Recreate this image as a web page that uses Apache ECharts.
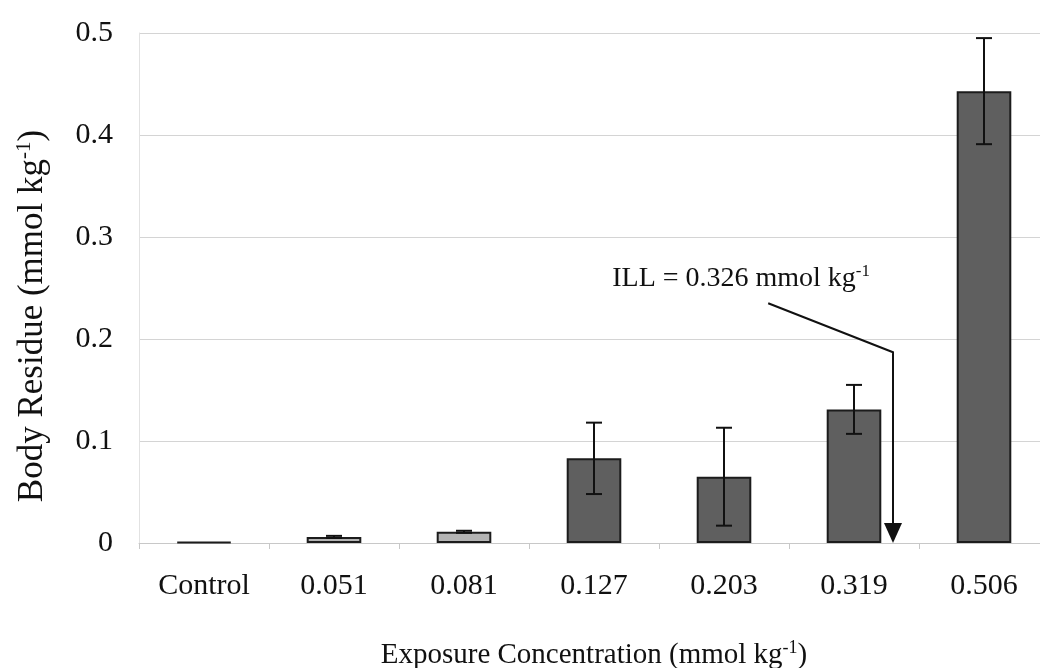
<!DOCTYPE html>
<html>
<head>
<meta charset="utf-8">
<script src="https://cdn.jsdelivr.net/npm/echarts@6/dist/echarts.min.js"></script>
<style>
  html, body { margin: 0; padding: 0; background: #fff; }
  #chart { width: 1040px; height: 668px; }
</style>
</head>
<body>
<div id="chart"></div>
<script>
// Exposure concentrations (mmol kg-1) and measured body residues
const categories = ['Control', '0.051', '0.081', '0.127', '0.203', '0.319', '0.506'];
const residue = [0.001, 0.006, 0.011, 0.083, 0.065, 0.131, 0.443];
const residueErr = [0, 0.001, 0.001, 0.035, 0.048, 0.024, 0.052];
const yTicks = [0, 0.1, 0.2, 0.3, 0.4, 0.5];

// Incipient lethal level annotation
const illLabel = 'ILL = 0.326 mmol kg';
const illArrowPos = 5.3;     // category position of the arrow (between 0.319 and 0.506)
const illBendY = 0.187;
const illStart = [4.34, 0.235];
const illTextAt = [3.14, 0.259];

const serif = '"Liberation Serif", "Times New Roman", serif';
const chart = echarts.init(document.getElementById('chart'), null, { renderer: 'canvas' });

const errData = categories.map((c, i) => [i, residue[i] - residueErr[i], residue[i] + residueErr[i]]);

chart.setOption({
  backgroundColor: '#ffffff',
  animation: false,
  grid: { left: 139, width: 910, top: 33, bottom: 125, containLabel: false, outerBoundsMode: 'none' },
  xAxis: {
    type: 'category',
    data: categories,
    name: '{t|Exposure Concentration (mmol kg}{s|-1}{t|)}',
    nameLocation: 'middle',
    nameGap: 96,
    nameTextStyle: {
      rich: {
        t: { fontFamily: serif, fontSize: 29, color: '#111' },
        s: { fontFamily: serif, fontSize: 18, color: '#111', verticalAlign: 'top', padding: [0, 0, 14, 0] }
      }
    },
    axisLine: { lineStyle: { color: '#c8c8c8', width: 1 } },
    axisTick: { show: true, length: 6, lineStyle: { color: '#c8c8c8' } },
    axisLabel: { fontFamily: serif, fontSize: 30, color: '#111', margin: 28 }
  },
  yAxis: {
    type: 'value',
    min: 0,
    max: 0.5,
    interval: 0.1,
    name: '{t|Body Residue (mmol kg}{s|-1}{t|)}',
    nameLocation: 'middle',
    nameGap: 88,
    nameTextStyle: {
      padding: [0, 56, 0, 0],
      rich: {
        t: { fontFamily: serif, fontSize: 35, color: '#111' },
        s: { fontFamily: serif, fontSize: 21, color: '#111', verticalAlign: 'top', padding: [0, 0, 16, 0] }
      }
    },
    axisLine: { show: true, lineStyle: { color: '#e2e2e2', width: 1 } },
    axisTick: { show: false },
    axisLabel: {
      fontFamily: serif, fontSize: 30, color: '#111', margin: 26,
      formatter: v => yTicks.includes(Math.round(v * 10) / 10) ? String(Math.round(v * 10) / 10) : ''
    },
    splitLine: { show: true, lineStyle: { color: '#d4d4d4', width: 1 } }
  },
  series: [
    {
      type: 'bar',
      data: residue,
      barWidth: '42%',
      itemStyle: {
        color: p => (p.dataIndex === 1 || p.dataIndex === 2) ? '#b4b4b4' : '#5f5f5f',
        borderColor: '#1c1c1c',
        borderWidth: 2
      },
      z: 2
    },
    {
      type: 'custom',
      data: errData,
      z: 5,
      renderItem: (params, api) => {
        const x = api.value(0);
        const lo = api.coord([x, api.value(1)]);
        const hi = api.coord([x, api.value(2)]);
        const cap = 8;
        const st = { stroke: '#111', lineWidth: 2 };
        if (Math.abs(hi[1] - lo[1]) < 1) return null;
        return {
          type: 'group',
          children: [
            { type: 'line', shape: { x1: lo[0], y1: lo[1], x2: hi[0], y2: hi[1] }, style: st },
            { type: 'line', shape: { x1: lo[0] - cap, y1: lo[1], x2: lo[0] + cap, y2: lo[1] }, style: st },
            { type: 'line', shape: { x1: hi[0] - cap, y1: hi[1], x2: hi[0] + cap, y2: hi[1] }, style: st }
          ]
        };
      }
    }
  ]
});

// Place the ILL annotation in data space
function px(pos, y) {
  const i = Math.floor(pos);
  const f = pos - i;
  const a = chart.convertToPixel({ xAxisIndex: 0, yAxisIndex: 0 }, [i, y]);
  const b = chart.convertToPixel({ xAxisIndex: 0, yAxisIndex: 0 }, [i + 1, y]);
  return [a[0] + f * (b[0] - a[0]), a[1]];
}

const start = px(illStart[0], illStart[1]);
const bend = px(illArrowPos, illBendY);
const tip = px(illArrowPos, 0);
const textPos = px(illTextAt[0], illTextAt[1]);
const headLen = 20, headHalf = 9;

chart.setOption({
  graphic: [
    {
      type: 'polyline',
      shape: { points: [start, bend, [tip[0], tip[1] - headLen]] },
      style: { stroke: '#111', lineWidth: 2, fill: null },
      z: 10
    },
    {
      type: 'polygon',
      shape: { points: [[tip[0] - headHalf, tip[1] - headLen], [tip[0] + headHalf, tip[1] - headLen], [tip[0], tip[1]]] },
      style: { fill: '#111' },
      z: 10
    },
    {
      type: 'text',
      x: textPos[0],
      y: textPos[1],
      z: 10,
      style: {
        text: '{t|' + illLabel + '}{s|-1}',
        verticalAlign: 'middle',
        rich: {
          t: { fontFamily: serif, fontSize: 28, fill: '#111' },
          s: { fontFamily: serif, fontSize: 17, fill: '#111', verticalAlign: 'top', padding: [0, 0, 14, 0] }
        }
      }
    }
  ]
});
</script>
</body>
</html>
